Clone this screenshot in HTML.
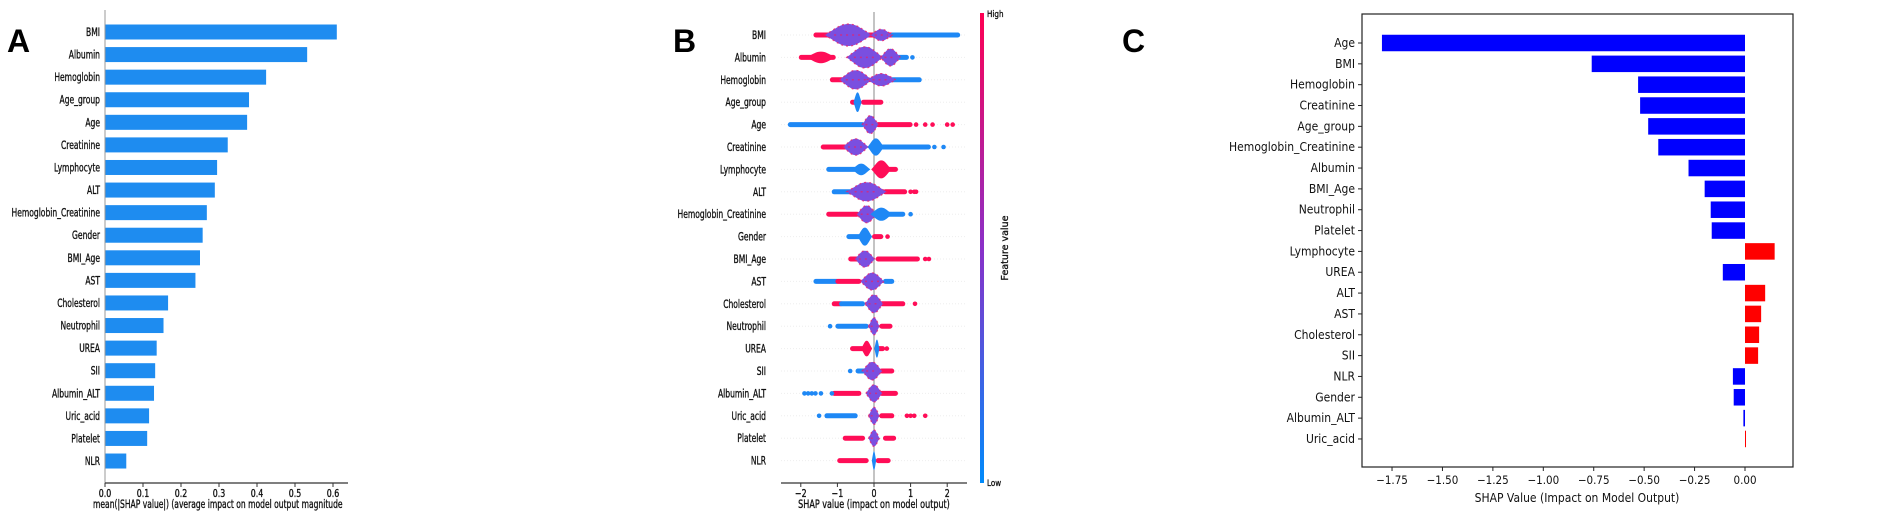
<!DOCTYPE html>
<html><head><meta charset="utf-8">
<style>
html,body{margin:0;padding:0;background:#fff;}
svg{display:block;font-family:"DejaVu Sans","Liberation Sans",sans-serif;}
</style></head>
<body>
<svg id="fig" width="1902" height="521" viewBox="0 0 1902 521" xmlns="http://www.w3.org/2000/svg">
<g id="pa"></g>
<g id="pb"></g>
<g id="pc"></g>
</svg>
<script>
const NS="http://www.w3.org/2000/svg";
function mk(parent,tag,attrs,text){const e=document.createElementNS(NS,tag);for(const k in attrs)e.setAttribute(k,attrs[k]);if(text!==undefined)e.textContent=text;parent.appendChild(e);return e;}
function ctext(parent,x,y,size,anchor,str,sx,bold){
 const a={x:0,y:0,'font-size':size,'text-anchor':anchor,fill:'#111',transform:`translate(${x},${y}) scale(${sx},1)`};
 if(bold){a.stroke='#111';a['stroke-width']=0.35;}
 return mk(parent,'text',a,str);
}

// ---------- Panel A data ----------
const aCategories=["BMI","Albumin","Hemoglobin","Age_group","Age","Creatinine","Lymphocyte","ALT","Hemoglobin_Creatinine","Gender","BMI_Age","AST","Cholesterol","Neutrophil","UREA","SII","Albumin_ALT","Uric_acid","Platelet","NLR"];
const aValues=[0.61,0.532,0.424,0.379,0.374,0.323,0.295,0.289,0.268,0.257,0.25,0.238,0.166,0.154,0.136,0.132,0.129,0.116,0.111,0.056];
const aTicks=[0,0.1,0.2,0.3,0.4,0.5,0.6];
const aTickLabels=["0.0","0.1","0.2","0.3","0.4","0.5","0.6"];

// ---------- Panel B data ----------
const bCategories=["BMI","Albumin","Hemoglobin","Age_group","Age","Creatinine","Lymphocyte","ALT","Hemoglobin_Creatinine","Gender","BMI_Age","AST","Cholesterol","Neutrophil","UREA","SII","Albumin_ALT","Uric_acid","Platelet","NLR"];
// blobs: [center, width, thickness(0-1), color]
const bBlobs=[
 [[-0.7,1.3,1.0,"m"],[0.2,0.6,0.35,"m"]],
 [[-0.25,1.0,0.95,"m"],[0.45,0.55,0.7,"m"],[-1.45,0.8,0.35,"r"]],
 [[-0.5,0.9,0.8,"m"],[0.2,0.8,0.4,"m"]],
 [[-0.45,0.22,0.85,"b"]],
 [[-0.1,0.45,0.75,"m"]],
 [[-0.5,0.7,0.65,"m"],[0.05,0.45,0.7,"b"]],
 [[-0.35,0.5,0.35,"b"],[0.2,0.55,0.75,"r"]],
 [[-0.2,1.1,0.8,"m"]],
 [[-0.2,0.55,0.7,"m"],[0.2,0.6,0.45,"b"]],
 [[-0.25,0.4,0.75,"b"]],
 [[-0.25,0.55,0.65,"m"]],
 [[-0.05,0.65,0.7,"m"]],
 [[0.0,0.5,0.75,"m"]],
 [[0.0,0.3,0.7,"m"]],
 [[-0.2,0.3,0.6,"r"],[0.08,0.14,0.75,"b"]],
 [[-0.05,0.55,0.75,"m"]],
 [[0.0,0.45,0.7,"m"]],
 [[0.0,0.3,0.7,"m"]],
 [[0.0,0.3,0.65,"m"]],
 [[0.0,0.12,0.8,"b"]]
];
// lines: [from, to, color]
const bLines=[
 [[-1.6,-0.9,"r"],[-0.2,0.6,"r"],[0.5,2.3,"b"]],
 [[-2.0,-1.1,"r"],[0.6,0.9,"b"]],
 [[-1.15,-0.7,"r"],[0.4,1.25,"b"]],
 [[-0.6,-0.4,"r"],[-0.3,0.2,"r"]],
 [[-2.3,-0.3,"b"],[0.1,1.0,"r"]],
 [[-1.4,-0.7,"r"],[0.2,1.5,"b"]],
 [[-1.25,-0.5,"b"],[0.35,0.6,"r"]],
 [[-1.1,-0.6,"b"],[0.3,0.85,"r"]],
 [[-1.25,-0.45,"r"],[0.4,0.8,"b"]],
 [[-0.7,-0.4,"b"],[0.0,0.2,"r"]],
 [[-0.65,-0.4,"r"],[0.1,1.2,"r"]],
 [[-1.6,-1.0,"b"],[-1.0,-0.4,"r"],[0.3,0.5,"b"]],
 [[-1.1,-0.9,"r"],[-0.9,-0.3,"b"],[0.2,0.8,"r"]],
 [[-1.0,-0.2,"b"],[0.2,0.45,"r"]],
 [[-0.6,-0.3,"r"],[0.1,0.25,"r"]],
 [[-0.45,-0.2,"b"],[0.2,0.5,"r"]],
 [[-1.1,-0.4,"r"],[0.2,0.6,"r"]],
 [[-1.3,-0.5,"b"],[0.2,0.5,"r"]],
 [[-0.8,-0.3,"r"],[0.3,0.55,"r"]],
 [[-0.95,-0.2,"r"],[0.1,0.4,"r"]]
];
// isolated dots: [value, color]
const bDots=[
 [],
 [[1.05,"b"]],
 [],
 [],
 [[1.15,"r"],[1.4,"r"],[1.6,"r"],[2.0,"r"],[2.15,"r"]],
 [[1.65,"b"],[1.9,"b"]],
 [],
 [[1.0,"r"],[1.1,"r"],[1.15,"r"]],
 [[1.0,"b"]],
 [[0.37,"r"]],
 [[1.4,"r"],[1.5,"r"]],
 [],
 [[1.12,"r"]],
 [[-1.2,"b"]],
 [[0.35,"r"]],
 [[-0.65,"b"]],
 [[-1.9,"b"],[-1.8,"b"],[-1.7,"b"],[-1.6,"b"],[-1.45,"b"],[-1.15,"b"]],
 [[-1.5,"b"],[0.9,"r"],[1.0,"r"],[1.1,"r"],[1.4,"r"]],
 [],
 []
];
const bTicks=[-2,-1,0,1,2];
const bTickLabels=["\u22122","\u22121","0","1","2"];

// ---------- Panel C data ----------
const cCategories=["Age","BMI","Hemoglobin","Creatinine","Age_group","Hemoglobin_Creatinine","Albumin","BMI_Age","Neutrophil","Platelet","Lymphocyte","UREA","ALT","AST","Cholesterol","SII","NLR","Gender","Albumin_ALT","Uric_acid"];
const cValues=[-1.80,-0.76,-0.53,-0.52,-0.48,-0.43,-0.28,-0.20,-0.17,-0.165,0.147,-0.11,0.10,0.08,0.07,0.065,-0.06,-0.056,-0.008,0.004];
const cTicks=[-1.75,-1.5,-1.25,-1.0,-0.75,-0.5,-0.25,0];
const cTickLabels=["\u22121.75","\u22121.50","\u22121.25","\u22121.00","\u22120.75","\u22120.50","\u22120.25","0.00"];

// ================= Panel A =================
(function(){
 const g=document.getElementById('pa');
 const x0=105,ppu=380,yTop=32,step=22.58,bh=15;
 const xs=v=>x0+v*ppu, ys=i=>yTop+i*step;
 let t=mk(g,'text',{x:7,y:52,'font-size':32,'font-weight':'bold','font-family':'Liberation Sans, sans-serif'},'A');
 
 aCategories.forEach((c,i)=>{
  const r=mk(g,'rect',{x:xs(0),y:ys(i)-bh/2,width:xs(aValues[i])-xs(0),height:bh,fill:'#1e8cf0'});
  
  const l=ctext(g,x0-5,ys(i)+4,11.5,'end',c,0.66,true);
  
 });
 mk(g,'line',{x1:x0,y1:10,x2:x0,y2:483,stroke:'#999','stroke-width':1});
 mk(g,'line',{x1:x0,y1:483,x2:348,y2:483,stroke:'#333','stroke-width':1.2});
 aTicks.forEach((v,i)=>{
  mk(g,'line',{x1:xs(v),y1:483,x2:xs(v),y2:487,stroke:'#333'});
  const tl=ctext(g,xs(v),497,10.5,'middle',aTickLabels[i],0.75,true);
  
 });
 const xl=ctext(g,93,508,11.5,'start','mean(|SHAP value|) (average impact on model output magnitude',0.66,true);
 
})();

// ================= Panel B =================
(function(){
 const g=document.getElementById('pb');
 const x0=874,ppu=36.6,yTop=35,step=22.4;
 const xs=v=>x0+v*ppu, ys=i=>yTop+i*step;
 const col={b:'#1e88f5',r:'#ff0d57',m:'#7a4fe0'};
 let t=mk(g,'text',{x:673,y:52,'font-size':32,'font-weight':'bold','font-family':'Liberation Sans, sans-serif'},'B');
 
 bCategories.forEach((c,i)=>{
  mk(g,'line',{x1:781,y1:ys(i),x2:967,y2:ys(i),stroke:'#eee','stroke-width':1,'stroke-dasharray':'1 2'});
  const l=ctext(g,766,ys(i)+4,11.5,'end',c,0.66,true);
  
 });
 mk(g,'line',{x1:x0,y1:12,x2:x0,y2:483,stroke:'#888','stroke-width':1});
 bCategories.forEach((c,i)=>{
  const y=ys(i);
  bLines[i].forEach(s=>{
   const r=mk(g,'rect',{x:xs(s[0])-2,y:y-2.5,width:xs(s[1])-xs(s[0])+4,height:5,rx:2.5,fill:col[s[2]]});
   
  });
  bBlobs[i].forEach(b=>{
   const cx=xs(b[0]),hw=b[1]*ppu/2,hh=3+b[2]*8;
   const d=`M${cx-hw},${y} C${cx-hw*0.5},${y-hh*0.6} ${cx-hw*0.35},${y-hh} ${cx},${y-hh} C${cx+hw*0.35},${y-hh} ${cx+hw*0.5},${y-hh*0.6} ${cx+hw},${y} C${cx+hw*0.5},${y+hh*0.6} ${cx+hw*0.35},${y+hh} ${cx},${y+hh} C${cx-hw*0.35},${y+hh} ${cx-hw*0.5},${y+hh*0.6} ${cx-hw},${y} Z`;
   const p=mk(g,'path',{d:d,fill:col[b[3]]});
   
   if(b[3]==='m'){
    mk(g,'path',{d:d,fill:'none',stroke:'#e8206a','stroke-width':1.2,'stroke-dasharray':'2 3',opacity:0.8});
    mk(g,'line',{x1:cx-hw*0.6,y1:y,x2:cx+hw*0.6,y2:y,stroke:'#e8206a','stroke-width':1.5,'stroke-dasharray':'2 4',opacity:0.7});
   }
  });
  bDots[i].forEach(dv=>{
   const ci=mk(g,'circle',{cx:xs(dv[0]),cy:y,r:2.3,fill:col[dv[1]]});
   
  });
 });
 mk(g,'line',{x1:781,y1:483,x2:967,y2:483,stroke:'#333','stroke-width':1.2});
 bTicks.forEach((v,i)=>{
  mk(g,'line',{x1:xs(v),y1:483,x2:xs(v),y2:487,stroke:'#333'});
  const tl=ctext(g,xs(v),497,10.5,'middle',bTickLabels[i],0.75,true);
  
 });
 const xl=ctext(g,874,508,11.5,'middle','SHAP value (impact on model output)',0.7,true);
 
 const defs=mk(g,'defs',{});
 const lg=mk(defs,'linearGradient',{id:'cb',x1:0,y1:0,x2:0,y2:1});
 mk(lg,'stop',{offset:'0','stop-color':'#ff0052'});
 mk(lg,'stop',{offset:'0.5','stop-color':'#8a30c8'});
 mk(lg,'stop',{offset:'1','stop-color':'#008bfb'});
 const cb=mk(g,'rect',{x:980,y:13,width:4,height:470,fill:'url(#cb)'});
 
 ctext(g,987,17,9,'start','High',0.8,true);
 ctext(g,987,486,9,'start','Low',0.8,true);
 const fv=mk(g,'text',{x:1008,y:248,'font-size':9.5,'text-anchor':'middle',transform:'rotate(-90 1008 248)',fill:'#111',stroke:'#111','stroke-width':0.3},'Feature value');
 
})();

// ================= Panel C =================
(function(){
 const g=document.getElementById('pc');
 const x0=1745,ppu=201.7,yTop=43,step=20.84,bh=16.5;
 const xs=v=>x0+v*ppu, ys=i=>yTop+i*step;
 let t=mk(g,'text',{x:1122,y:52,'font-size':32,'font-weight':'bold','font-family':'Liberation Sans, sans-serif'},'C');
 
 const fr=mk(g,'rect',{x:1362,y:14,width:431,height:453,fill:'none',stroke:'#222','stroke-width':1.2});
 
 cCategories.forEach((c,i)=>{
  const v=cValues[i];
  const r=mk(g,'rect',{x:Math.min(xs(0),xs(v)),y:ys(i)-bh/2,width:Math.max(1,Math.abs(xs(v)-xs(0))),height:bh,fill:v<0?'#0000ff':'#ff0000'});
  
  mk(g,'line',{x1:1358,y1:ys(i),x2:1362,y2:ys(i),stroke:'#222'});
  const l=ctext(g,1355,ys(i)+4,12,'end',c,0.9);
  
 });
 cTicks.forEach((v,i)=>{
  mk(g,'line',{x1:xs(v),y1:467,x2:xs(v),y2:471,stroke:'#222'});
  const tl=ctext(g,xs(v),484,11.5,'middle',cTickLabels[i],0.9);
  
 });
 const xl=ctext(g,1577,502,12,'middle','SHAP Value (Impact on Model Output)',0.9);
 
})();
</script>
</body></html>
